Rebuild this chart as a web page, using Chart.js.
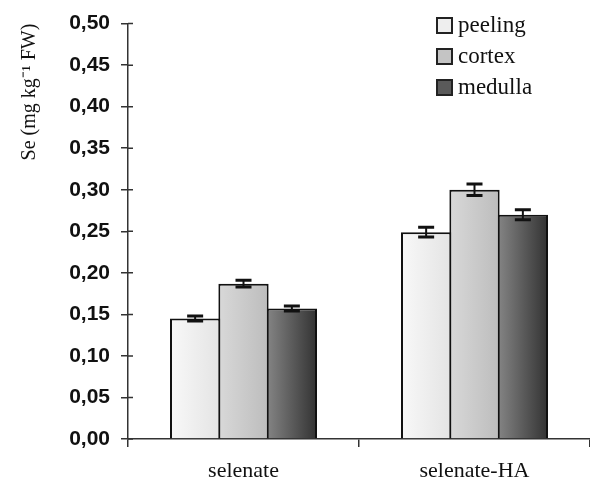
<!DOCTYPE html>
<html>
<head>
<meta charset="utf-8">
<script src="https://cdn.jsdelivr.net/npm/chart.js@4"></script>
<style>
  html, body { margin: 0; padding: 0; background: #fff; }
  #wrap { width: 590px; height: 487px; position: relative; }
</style>
</head>
<body>
<div id="wrap"><canvas id="se-chart"></canvas></div>
<script>
// data
const treatments = ["selenate", "selenate-HA"];
const seriesNames = ["peeling", "cortex", "medulla"];
const peelingValues = [0.145, 0.249];
const cortexValues = [0.187, 0.300];
const medullaValues = [0.157, 0.270];
const peelingErrors = [0.003, 0.006];
const cortexErrors = [0.004, 0.007];
const medullaErrors = [0.003, 0.006];
const yTicks = [0, 0.05, 0.1, 0.15, 0.2, 0.25, 0.3, 0.35, 0.4, 0.45, 0.5];

const CAT_PCT = 0.628;
const BAR_PCT = 1.04; // tiny overlap so neighbouring bars share one edge

// left/right shades of each series, bars look shaded horizontally
const shades = [
  ["#f8f8f8", "#e4e4e4"],
  ["#d8d8d8", "#bdbdbd"],
  ["#838383", "#343434"],
];

const barFill = (ctx) => {
  const chart = ctx.chart;
  const area = chart.chartArea;
  const pair = shades[ctx.datasetIndex];
  if (!area || ctx.dataIndex === undefined) return pair[1];
  const xScale = chart.scales.x;
  const catW = (area.right - area.left) / treatments.length;
  const groupW = catW * CAT_PCT;
  const barW = groupW / seriesNames.length;
  const center = xScale.getPixelForValue(ctx.dataIndex);
  const left = center - groupW / 2 + ctx.datasetIndex * barW;
  const g = chart.ctx.createLinearGradient(left, 0, left + barW, 0);
  g.addColorStop(0, pair[0]);
  g.addColorStop(1, pair[1]);
  return g;
};

const errors = [peelingErrors, cortexErrors, medullaErrors];

// draw the small error bars on top of every bar
const errorBars = {
  id: "errorBars",
  afterDatasetsDraw(chart) {
    const { ctx, scales } = chart;
    ctx.save();
    ctx.strokeStyle = "#111";
    chart.data.datasets.forEach((ds, i) => {
      const meta = chart.getDatasetMeta(i);
      meta.data.forEach((bar, j) => {
        const v = ds.data[j];
        const e = errors[i][j];
        const yHi = scales.y.getPixelForValue(v + e);
        const yLo = scales.y.getPixelForValue(v - e);
        const x = bar.x;
        ctx.lineWidth = 2;
        ctx.beginPath();
        ctx.moveTo(x, yHi);
        ctx.lineTo(x, yLo);
        ctx.stroke();
        ctx.lineWidth = 3;
        ctx.beginPath();
        ctx.moveTo(x - 8, yHi);
        ctx.lineTo(x + 8, yHi);
        ctx.moveTo(x - 8, yLo);
        ctx.lineTo(x + 8, yLo);
        ctx.stroke();
      });
    });
    ctx.restore();
  },
};

// the reference ticks cross the axis, add the inner half
const innerTicks = {
  id: "innerTicks",
  afterDraw(chart) {
    const { ctx, scales, chartArea } = chart;
    ctx.save();
    ctx.strokeStyle = "#333";
    ctx.lineWidth = 1.5;
    ctx.beginPath();
    yTicks.forEach((v) => {
      const y = scales.y.getPixelForValue(v);
      ctx.moveTo(chartArea.left, y);
      ctx.lineTo(chartArea.left + 5, y);
    });
    ctx.stroke();
    ctx.restore();
  },
};

// legend sits inside the plot, top right
const boxLegend = {
  id: "boxLegend",
  afterDraw(chart) {
    const { ctx } = chart;
    const fills = ["#eeeeee", "#c4c4c4", "#5a5a5a"];
    ctx.save();
    ctx.font = "23px 'Liberation Serif', 'Times New Roman', serif";
    ctx.textBaseline = "middle";
    seriesNames.forEach((name, i) => {
      const cy = 25 + i * 31;
      ctx.fillStyle = fills[i];
      ctx.fillRect(437, cy - 7, 15, 15);
      ctx.strokeStyle = "#222";
      ctx.lineWidth = 2;
      ctx.strokeRect(437, cy - 7, 15, 15);
      ctx.fillStyle = "#111";
      ctx.fillText(name, 458, cy + 1);
    });
    ctx.restore();
  },
};

const datasets = [peelingValues, cortexValues, medullaValues].map((vals, i) => ({
  label: seriesNames[i],
  data: vals,
  backgroundColor: barFill,
  borderColor: "#111",
  borderWidth: 2,
  categoryPercentage: CAT_PCT,
  barPercentage: BAR_PCT,
}));

new Chart(document.getElementById("se-chart"), {
  type: "bar",
  data: { labels: treatments, datasets },
  options: {
    responsive: true,
    maintainAspectRatio: false,
    animation: false,
    layout: { padding: { top: 21, right: 0, bottom: 0, left: 0 } },
    plugins: {
      legend: { display: false },
      tooltip: { enabled: false },
    },
    scales: {
      x: {
        afterFit: (scale) => { scale.height = 48; },
        grid: {
          offset: true,
          drawOnChartArea: false,
          tickLength: 8,
          color: "#333",
          lineWidth: 1.5,
        },
        border: { color: "#333", width: 1.5 },
        ticks: {
          color: "#111",
          padding: 11,
          font: { family: "'Liberation Serif', 'Times New Roman', serif", size: 22 },
        },
      },
      y: {
        min: 0,
        max: 0.5,
        afterFit: (scale) => { scale.width = 128; },
        afterBuildTicks: (scale) => {
          scale.ticks = yTicks.map((v) => ({ value: v }));
        },
        grid: {
          drawOnChartArea: false,
          tickLength: 7,
          color: "#333",
          lineWidth: 1.5,
        },
        border: { color: "#333", width: 1.5 },
        ticks: {
          color: "#111",
          padding: 11,
          font: { family: "'Liberation Sans', Arial, sans-serif", size: 21, weight: "bold" },
          callback: (v) => Number(v).toFixed(2).replace(".", ","),
        },
        title: {
          display: true,
          text: "Se (mg kg\u207B\u00B9 FW)",
          align: "end",
          color: "#111",
          padding: { top: 18, bottom: 0 },
          font: { family: "'Liberation Serif', 'Times New Roman', serif", size: 20 },
        },
      },
    },
  },
  plugins: [errorBars, innerTicks, boxLegend],
});
</script>
</body>
</html>
